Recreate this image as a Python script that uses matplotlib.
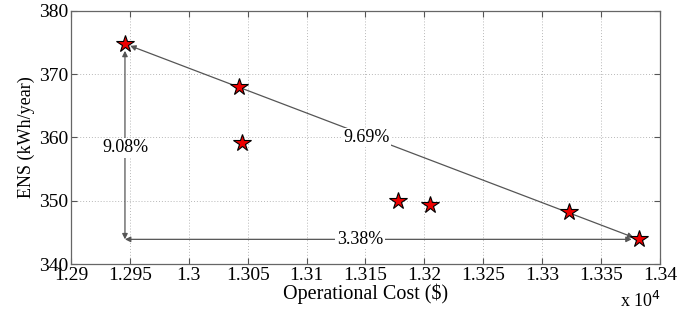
import matplotlib
matplotlib.use("Agg")
import matplotlib.pyplot as plt
import numpy as np

plt.rcParams['font.family'] = ['Liberation Serif', 'DejaVu Serif']

cost = [1.29458, 1.30423, 1.30454, 1.31773, 1.32048, 1.33230, 1.33819]
ens = [374.8, 368.0, 359.2, 350.0, 349.3, 348.2, 343.9]
xticks = [1.29, 1.295, 1.3, 1.305, 1.31, 1.315, 1.32, 1.325, 1.33, 1.335, 1.34]
xticklabels = ['1.29', '1.295', '1.3', '1.305', '1.31', '1.315', '1.32', '1.325', '1.33', '1.335', '1.34']
yticks = [340, 350, 360, 370, 380]
labels = ['9.69%', '9.08%', '3.38%']

fig = plt.figure(figsize=(6.99, 3.13), dpi=100)
ax = fig.add_axes([0.1016, 0.1565, 0.8425, 0.8085])
ax.set_xlim(1.29, 1.34)
ax.set_ylim(340, 380)
ax.set_xticks(xticks)
ax.set_xticklabels(xticklabels)
ax.set_yticks(yticks)
ax.grid(True, linestyle=(0, (1, 2)), color='#b8b8b8', linewidth=0.7)
ax.tick_params(direction='in', top=True, right=True, labelsize=14, length=4,
               color='#555555', pad=2)
for s in ax.spines.values():
    s.set_color('#666666')
    s.set_linewidth(0.9)
ax.set_xlabel('Operational Cost ($)', fontsize=14.5, labelpad=0)
ax.set_ylabel('ENS (kWh/year)', fontsize=13, labelpad=3)

def arrow(sa, sb):
    return dict(arrowstyle='<|-|>', color='#555555', lw=0.9,
                mutation_scale=8, shrinkA=sa, shrinkB=sb)

# diagonal
ax.annotate('', xy=(cost[0], ens[0]), xytext=(cost[6], ens[6]), arrowprops=arrow(4, 4), zorder=2)
# vertical
ax.annotate('', xy=(cost[0], ens[0]), xytext=(cost[0], ens[6]), arrowprops=arrow(0, 5), zorder=2)
# horizontal
ax.annotate('', xy=(cost[0], ens[6]), xytext=(cost[6], ens[6]), arrowprops=arrow(5, 0), zorder=2)

bbox = dict(facecolor='white', edgecolor='none', pad=1)
ax.text(1.3151, 360.0, labels[0], fontsize=13, ha='center', va='center', bbox=bbox, zorder=3)
ax.text(cost[0], 358.4, labels[1], fontsize=13, ha='center', va='center', bbox=bbox, zorder=3)
ax.text(1.31453, ens[6], labels[2], fontsize=13, ha='center', va='center', bbox=bbox, zorder=3)

ax.plot(cost, ens, linestyle='none', marker='*', markersize=13, markerfacecolor='#ee0000',
        markeredgecolor='black', markeredgewidth=0.8, zorder=4)

fig.text(0.887, 0.019, r'x 10$^{4}$', fontsize=13, ha='left', va='baseline')

fig.savefig('out.png', dpi=100)
